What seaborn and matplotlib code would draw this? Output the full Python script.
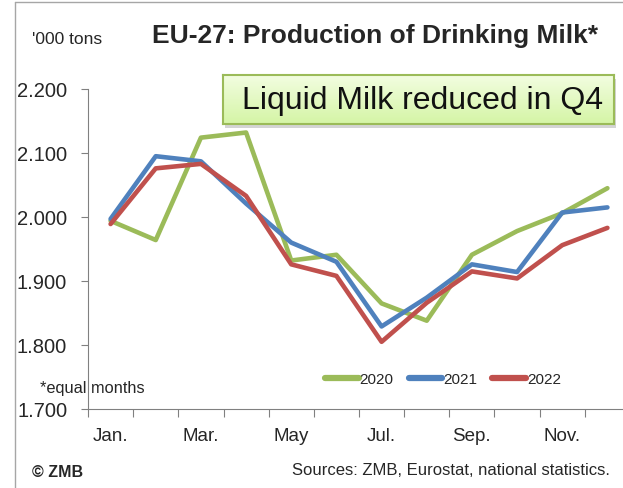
import numpy as np
import pandas as pd
import seaborn as sns
import matplotlib.pyplot as plt
from matplotlib.lines import Line2D
from matplotlib.patches import Rectangle
from matplotlib.colors import LinearSegmentedColormap

# Monthly production, '000 tons
months = ["Jan.", "Feb.", "Mar.", "Apr.", "May", "Jun.",
          "Jul.", "Aug.", "Sep.", "Oct.", "Nov.", "Dec."]
prod_2020 = [1.994, 1.964, 2.124, 2.132, 1.932, 1.941, 1.865, 1.838, 1.941, 1.978, 2.006, 2.045]
prod_2021 = [1.997, 2.095, 2.087, 2.021, 1.960, 1.930, 1.829, 1.874, 1.926, 1.914, 2.007, 2.015]
prod_2022 = [1.989, 2.076, 2.083, 2.033, 1.926, 1.908, 1.805, 1.866, 1.915, 1.904, 1.956, 1.983]
years = ["2020", "2021", "2022"]
y_ticks = [1.7, 1.8, 1.9, 2.0, 2.1, 2.2]

df = pd.DataFrame({
    "month": list(range(12)) * 3,
    "value": prod_2020 + prod_2021 + prod_2022,
    "year": [y for y in years for _ in range(12)],
})

sns.set_theme(style="white")
plt.rcParams["font.family"] = ["Liberation Sans", "DejaVu Sans"]

W, H = 623, 489
fig = plt.figure(figsize=(W / 100, H / 100), dpi=100)
# axes: x from 88px to 630px (cropped on the right), y from 90px to 410px
ax = fig.add_axes([88 / W, 1 - 410 / H, 542 / W, 320 / H])
ax.patch.set_visible(False)

palette = {"2020": "#9BBB59", "2021": "#4F81BD", "2022": "#C0504D"}
sns.lineplot(data=df, x="month", y="value", hue="year", palette=palette,
             linewidth=3.3, solid_capstyle="round", solid_joinstyle="round",
             ax=ax, legend=False)

ax.set_xlim(-0.5, 11.5)
ax.set_ylim(1.7, 2.2)
ax.set_xlabel("")
ax.set_ylabel("")

# category boundaries as tick marks, labels in the middle
ax.set_xticks(np.arange(-0.5, 12, 1))
ax.set_xticklabels([])
ax.set_xticks(np.arange(0, 12, 2), minor=True)
ax.set_xticklabels(months[::2], minor=True, fontsize=13.5)
ax.tick_params(axis="x", which="major", direction="out", length=6, width=0.8,
               color="#808080", bottom=True)
ax.tick_params(axis="x", which="minor", length=0, pad=13, bottom=True)

ax.set_yticks(y_ticks)
ax.set_yticklabels([f"{v:.3f}" for v in y_ticks], fontsize=14.5)
ax.tick_params(axis="y", direction="out", length=5, width=0.8, color="#808080",
               left=True, pad=10)

for side in ["top", "right"]:
    ax.spines[side].set_visible(False)
for side in ["left", "bottom"]:
    ax.spines[side].set_color("#808080")
    ax.spines[side].set_linewidth(0.8)

# legend inside the plot
handles = [Line2D([0], [0], color=palette[y], lw=4.5, solid_capstyle="round") for y in years]
ax.legend(handles, years, loc="center", bbox_to_anchor=(0.655, 0.094), ncol=3,
          frameon=False, fontsize=11, handlelength=2.2, handletextpad=0.05,
          columnspacing=1.0, borderpad=0)

# frame around the slide
fig.add_artist(Line2D([15 / W, 15 / W], [0, 1 - 3 / H], color="#A6A6A6", lw=1))
fig.add_artist(Line2D([15 / W, 1], [1 - 3 / H, 1 - 3 / H], color="#A6A6A6", lw=1))

# texts
fig.text(32 / W, 1 - 40 / H, "'000 tons", fontsize=12.5, va="center", ha="left")
fig.text(375.5 / W, 1 - 36 / H, "EU-27: Production of Drinking Milk*", fontsize=19,
         fontweight="bold", va="center", ha="center")
fig.text(40 / W, 1 - 388 / H, "*equal months", fontsize=11.8, va="center", ha="left")
fig.text(32 / W, 1 - 473 / H, "© ZMB", fontsize=11.5, fontweight="bold",
         va="center", ha="left")
fig.text(610 / W, 1 - 471 / H, "Sources: ZMB, Eurostat, national statistics.",
         fontsize=12, va="center", ha="right")

# highlighted message box with a soft gradient and shadow
bx, by, bw, bh = 223 / W, 1 - 125 / H, 391 / W, 49 / H
fig.add_artist(Rectangle((bx + 2 / W, by - 4 / H), bw, bh, transform=fig.transFigure,
                         facecolor="#B8B8B8", edgecolor="none", alpha=0.6, zorder=1.5))
box_ax = fig.add_axes([bx, by, bw, bh], zorder=2)
grad = np.linspace(0, 1, 50).reshape(-1, 1)
box_ax.imshow(grad, aspect="auto", extent=[0, 1, 0, 1], origin="upper",
              cmap=LinearSegmentedColormap.from_list("g", ["#F2FDE0", "#D5F5A6"]))
box_ax.set_xticks([])
box_ax.set_yticks([])
for s in box_ax.spines.values():
    s.set_color("#9BBB59")
    s.set_linewidth(1.5)
box_ax.text(0.51, 0.5, "Liquid Milk reduced in Q4", fontsize=23, ha="center",
            va="center", transform=box_ax.transAxes, color="#111111")

fig.savefig("out.png", dpi=100)
